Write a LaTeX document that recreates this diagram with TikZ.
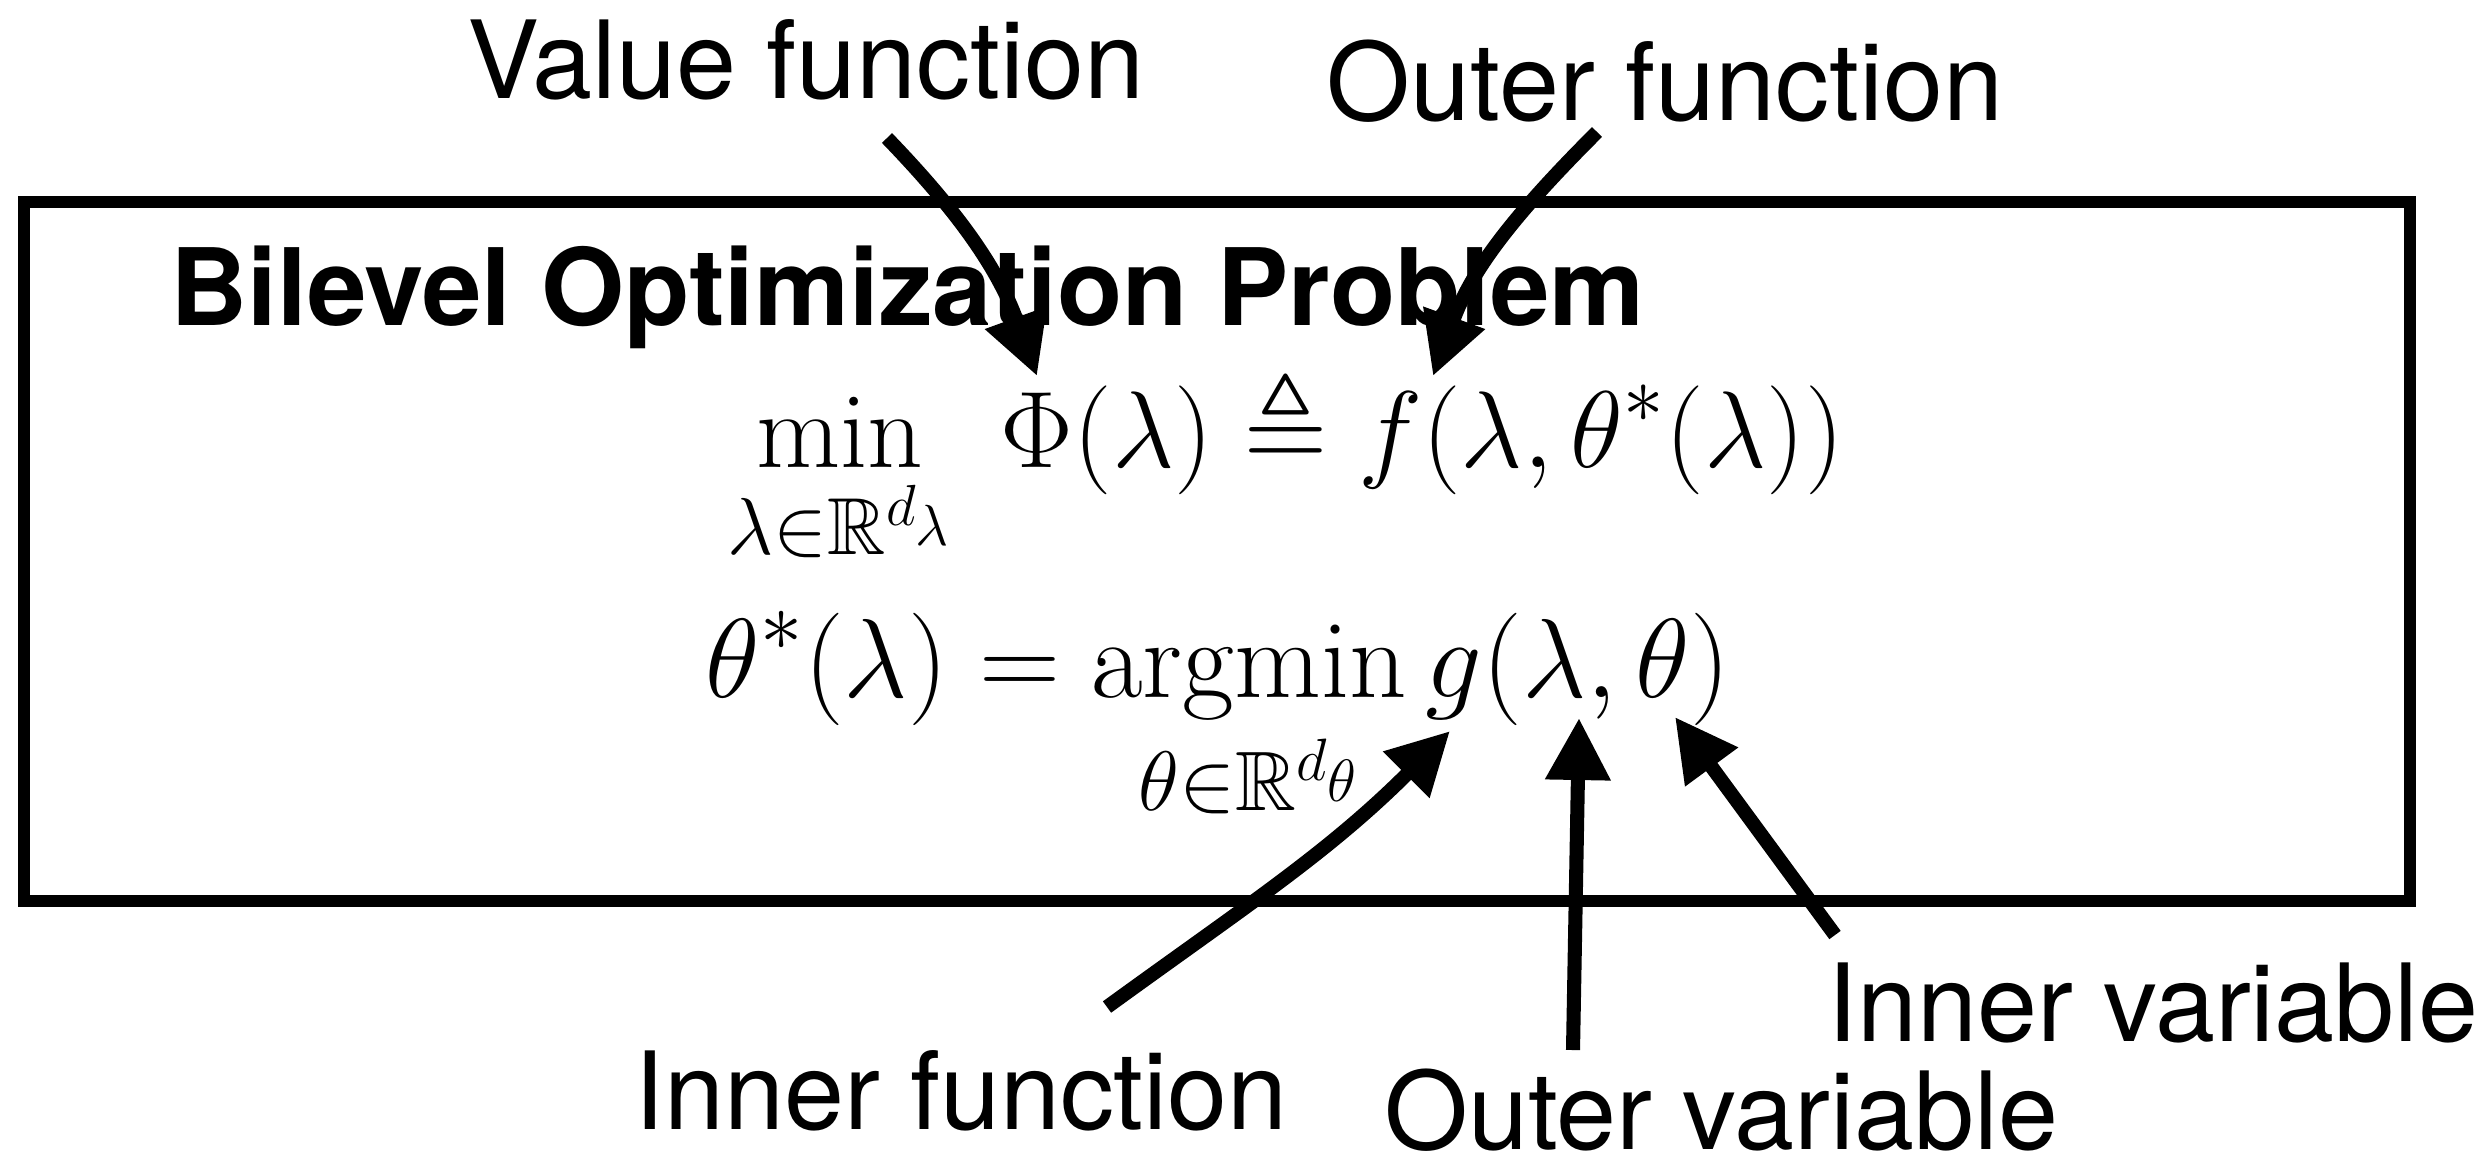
\RequirePackage{fix-cm}
\documentclass[tikz,border=0pt]{standalone}
\usepackage{amssymb}
\usepackage{mathtools}
\usepackage{fontspec}
\setsansfont{TeX Gyre Heros}
\usetikzlibrary{arrows.meta}
\DeclareMathSizes{31}{31}{23}{16.5}
\DeclareMathSizes{32}{32}{24}{17}

\begin{document}
\begin{tikzpicture}[
    labeltext/.style={font=\sffamily\fontsize{30.7}{36}\selectfont, inner sep=0pt, anchor=base},
    titletext/.style={font=\sffamily\bfseries\fontsize{30.4}{36}\selectfont, inner sep=0pt, anchor=base west},
    eqtext/.style={inner sep=0pt, anchor=base west},
    callout/.style={line width=4pt, -{Triangle[length=0.62cm,width=0.62cm]}},
  ]
    \useasboundingbox (0,0) rectangle (24.88,-11.62);
    % frame of the problem
    \draw[line width=3.6pt] (0.24,-2.02) rectangle (24.10,-9.01);
    \node[titletext] (title) at (1.70,-3.25) {Bilevel Optimization Problem};
    % the two lines of the problem
    \node[eqtext, font=\fontsize{31}{37}\selectfont] (upper) at (7.27,-4.67)
      {$\displaystyle \min_{\lambda\in\mathbb{R}^{d_\lambda}}\; \Phi(\lambda) \triangleq f(\lambda,\theta^*(\lambda))$};
    \node[eqtext, font=\fontsize{32}{38}\selectfont] (lower) at (7.05,-6.97)
      {$\displaystyle \theta^*(\lambda) = \operatorname*{argmin}_{\theta\in\mathbb{R}^{d_\theta}} g(\lambda,\theta)$};
    % labels
    \node[labeltext] (vfun) at (8.06,-0.98) {Value function};
    \node[labeltext] (ofun) at (16.65,-1.20) {Outer function};
    \node[labeltext] (ifun) at (9.61,-11.29) {Inner function};
    \node[labeltext] (ovar) at (17.21,-11.49) {Outer variable};
    \node[labeltext] (ivar) at (21.53,-10.41) {Inner variable};
    % tails and tips of the arrows
    \coordinate (vfun tail) at (8.87,-1.38);
    \coordinate (ofun tail) at (15.97,-1.32);
    \coordinate (ifun tail) at (11.07,-10.07);
    \coordinate (ovar tail) at (15.73,-10.50);
    \coordinate (ivar tail) at (18.35,-9.35);
    \coordinate (phi tip) at (10.37,-3.76);
    \coordinate (f tip) at (14.33,-3.76);
    \coordinate (g tip) at (14.50,-7.31);
    \coordinate (lambda tip) at (15.79,-7.18);
    \coordinate (theta tip) at (16.75,-7.17);
    \draw[callout] (vfun tail) to[out=-46,in=110] (phi tip);
    \draw[callout] (ofun tail) to[out=225,in=70] (f tip);
    \draw[callout] (ifun tail) to[out=36,in=225] (g tip);
    \draw[callout] (ovar tail) -- (lambda tip);
    \draw[callout] (ivar tail) -- (theta tip);
\end{tikzpicture}
\end{document}
